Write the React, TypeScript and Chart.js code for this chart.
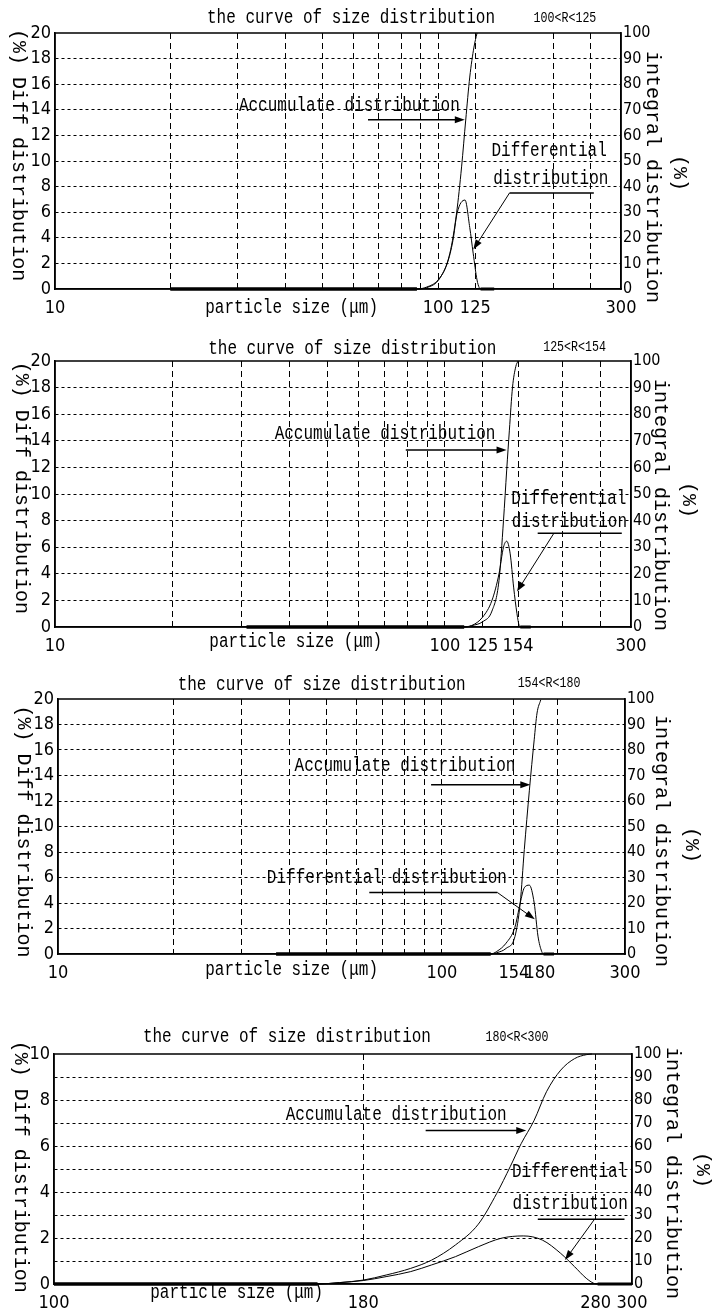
import React, { useEffect, useRef } from 'react';
import { Chart, registerables } from 'chart.js';
Chart.register(...registerables);

// ---------------- data ----------------
// Panel 1 : 100<R<125
const p1DiffSize = [20, 88, 93.3, 99.9, 105.6, 109.3, 112, 117.5, 120.9, 123.4, 126.3, 128, 129, 140];
const p1DiffValue = [0, 0, 0.15, 0.7, 2.0, 3.8, 5.9, 6.95, 4.8, 2.8, 0.7, 0.1, 0, 0];
const p1AccSize = [20, 88, 93.3, 101.1, 107.3, 111.7, 115.1, 118, 120.9, 124, 126.3];
const p1AccValue = [0, 0, 0.5, 4.3, 14, 29.7, 47.7, 66, 82.8, 94.5, 100];
const p1XGrid = [20, 30, 40, 50, 60, 70, 80, 90, 100, 125, 200, 250];
const p1XLabels = [10, 100, 125, 300];

// Panel 2 : 125<R<154
const p2DiffSize = [31, 112, 117, 125, 132, 137.6, 141.3, 144, 147, 150, 153, 155, 156, 166];
const p2DiffValue = [0, 0, 0.1, 0.75, 2.0, 4.0, 6.0, 6.45, 5.5, 3.0, 1.0, 0.1, 0, 0];
const p2AccSize = [31, 112, 117, 125, 132, 137.6, 141.3, 144, 146.3, 149, 152, 154];
const p2AccValue = [0, 0, 0.5, 2, 6, 17.5, 40, 59, 74, 90, 98, 100];
const p2XGrid = [20, 30, 40, 50, 60, 70, 80, 90, 100, 125, 154, 200, 250];
const p2XLabels = [10, 100, 125, 154, 300];

// Panel 3 : 154<R<180
const p3DiffSize = [37, 134, 139, 147, 155, 160, 164, 169, 174, 178, 182, 184, 196];
const p3DiffValue = [0, 0, 0.2, 0.85, 2.1, 4.0, 5.2, 5.4, 4.0, 1.4, 0.2, 0, 0];
const p3AccSize = [37, 134, 139, 147, 155, 160, 164, 169, 174, 177, 181];
const p3AccValue = [0, 0, 0.5, 2.2, 6.8, 20, 41, 64, 84, 94.5, 99.7];
const p3XGrid = [20, 30, 40, 50, 60, 70, 80, 90, 100, 154, 200];
const p3XLabels = [10, 100, 154, 180, 300];

// Panel 4 : 180<R<300
const p4DiffSize = [100, 165, 172, 180, 188, 197, 205, 214.5, 224, 234, 244, 253, 262, 269, 275, 279, 281, 300];
const p4DiffValue = [0, 0, 0.06, 0.15, 0.32, 0.54, 0.83, 1.19, 1.62, 1.99, 2.09, 1.91, 1.33, 0.75, 0.25, 0.03, 0, 0];
const p4AccSize = [100, 165, 172, 180, 188, 197, 205, 214.5, 224, 232, 238, 243, 249, 255, 262, 269, 275, 278];
const p4AccValue = [0, 0, 0.6, 1.7, 3.9, 6.8, 10.4, 17, 26, 39.4, 51, 61, 71, 83.6, 93, 98, 99.7, 100];
const p4XGrid = [180, 280];
const p4XLabels = [100, 180, 280, 300];

const rangeTexts = ['100<R<125', '125<R<154', '154<R<180', '180<R<300'];
const chartTitle = 'the curve of size distribution';
const xTitle = 'particle size (\u03bcm)';
const leftTitle = '(%) Diff distribution';
const rightTitle = 'integral distribution';

// ---------------- layout ----------------
const MONO = "'Liberation Mono', 'DejaVu Sans Mono', monospace";
const NARROW = "'Liberation Sans Narrow', 'DejaVu Sans Condensed', 'Liberation Sans', sans-serif";

type Ann = {
  tx: number; ty: number; ax1: number; ax2: number; ay: number;
  lines: [string, number, number][];
  hx1: number; hx2: number; hy: number; dx1: number; dy1: number; dx2: number; dy2: number;
};
type PanelCfg = {
  top: number; height: number; area: { l: number; t: number; r: number; b: number };
  xMin: number; xMax: number; xGrid: number[]; xLabels: number[];
  yMax: number; yStep: number; yLabelStep: number;
  diff: { x: number[]; y: number[] }; acc: { x: number[]; y: number[] };
  range: string;
  titleFx: number; titleDy: number; rangeFx: number; rangeDy: number;
  xTitleFx: number; xTitleDy: number;
  leftTitleX: number; leftTitleFy: number; rightTitleX: number; rightTitleFy: number; pctX: number; pctFy: number;
  ann: Ann;
};

const panels: PanelCfg[] = [
  {
    top: 0, height: 322, area: { l: 55, t: 33, r: 621, b: 289 },
    xMin: 10, xMax: 300, xGrid: p1XGrid, xLabels: p1XLabels, yMax: 20, yStep: 2, yLabelStep: 2,
    diff: { x: p1DiffSize, y: p1DiffValue }, acc: { x: p1AccSize, y: p1AccValue }, range: rangeTexts[0],
    titleFx: 0.523, titleDy: -15, rangeFx: 0.901, rangeDy: -15, xTitleFx: 0.418, xTitleDy: 19,
    leftTitleX: 18, leftTitleFy: 0.477, rightTitleX: 652, rightTitleFy: 0.5625, pctX: 679, pctFy: 0.547,
    ann: { tx: 0.52, ty: 0.284, ax1: 0.553, ax2: 0.724, ay: 0.339,
      lines: [['Differential', 0.873, 0.458], ['distribution', 0.876, 0.569]],
      hx1: 0.803, hx2: 0.952, hy: 0.625, dx1: 0.803, dy1: 0.625, dx2: 0.739, dy2: 0.846 },
  },
  {
    top: 322, height: 333, area: { l: 55, t: 361, r: 631, b: 627 },
    xMin: 10, xMax: 300, xGrid: p2XGrid, xLabels: p2XLabels, yMax: 20, yStep: 2, yLabelStep: 2,
    diff: { x: p2DiffSize, y: p2DiffValue }, acc: { x: p2AccSize, y: p2AccValue }, range: rangeTexts[1],
    titleFx: 0.516, titleDy: -12, rangeFx: 0.902, rangeDy: -14, xTitleFx: 0.418, xTitleDy: 15,
    leftTitleX: 21, leftTitleFy: 0.477, rightTitleX: 660, rightTitleFy: 0.541, pctX: 688, pctFy: 0.523,
    ann: { tx: 0.573, ty: 0.272, ax1: 0.609, ax2: 0.784, ay: 0.335,
      lines: [['Differential', 0.892, 0.516], ['distribution', 0.893, 0.604]],
      hx1: 0.838, hx2: 0.984, hy: 0.648, dx1: 0.866, dy1: 0.648, dx2: 0.802, dy2: 0.867 },
  },
  {
    top: 655, height: 330, area: { l: 58, t: 699, r: 625, b: 954 },
    xMin: 10, xMax: 300, xGrid: p3XGrid, xLabels: p3XLabels, yMax: 20, yStep: 2, yLabelStep: 2,
    diff: { x: p3DiffSize, y: p3DiffValue }, acc: { x: p3AccSize, y: p3AccValue }, range: rangeTexts[2],
    titleFx: 0.465, titleDy: -14, rangeFx: 0.866, rangeDy: -16, xTitleFx: 0.412, xTitleDy: 16,
    leftTitleX: 23, leftTitleFy: 0.52, rightTitleX: 661, rightTitleFy: 0.557, pctX: 691, pctFy: 0.573,
    ann: { tx: 0.612, ty: 0.262, ax1: 0.658, ax2: 0.833, ay: 0.336,
      lines: [['Differential distribution', 0.58, 0.7]],
      hx1: 0.549, hx2: 0.775, hy: 0.759, dx1: 0.775, dy1: 0.759, dx2: 0.841, dy2: 0.864 },
  },
  {
    top: 985, height: 326, area: { l: 54, t: 1054, r: 632, b: 1284 },
    xMin: 100, xMax: 300, xGrid: p4XGrid, xLabels: p4XLabels, yMax: 10, yStep: 1, yLabelStep: 2,
    diff: { x: p4DiffSize, y: p4DiffValue }, acc: { x: p4AccSize, y: p4AccValue }, range: rangeTexts[3],
    titleFx: 0.403, titleDy: -17, rangeFx: 0.801, rangeDy: -17, xTitleFx: 0.316, xTitleDy: 9,
    leftTitleX: 20, leftTitleFy: 0.49, rightTitleX: 672, rightTitleFy: 0.517, pctX: 702, pctFy: 0.504,
    ann: { tx: 0.592, ty: 0.265, ax1: 0.643, ax2: 0.817, ay: 0.333,
      lines: [['Differential', 0.892, 0.512], ['distribution', 0.893, 0.652]],
      hx1: 0.837, hx2: 0.987, hy: 0.719, dx1: 0.935, dy1: 0.719, dx2: 0.884, dy2: 0.896 },
  },
];

function txt(ctx: CanvasRenderingContext2D, s: string, x: number, y: number, size: number, sx: number, family = MONO, rot = 0) {
  ctx.save();
  ctx.translate(x, y);
  if (rot) ctx.rotate(rot);
  ctx.scale(sx, 1);
  ctx.font = `${size}px ${family}`;
  ctx.textAlign = 'center';
  ctx.textBaseline = 'middle';
  ctx.fillStyle = '#000';
  ctx.fillText(s, 0, 0);
  ctx.restore();
}

function arrow(ctx: CanvasRenderingContext2D, x1: number, y1: number, x2: number, y2: number) {
  const ang = Math.atan2(y2 - y1, x2 - x1);
  const L = 10, W = 3.5;
  ctx.beginPath();
  ctx.moveTo(x1, y1);
  ctx.lineTo(x2 - Math.cos(ang) * L * 0.6, y2 - Math.sin(ang) * L * 0.6);
  ctx.stroke();
  ctx.beginPath();
  ctx.moveTo(x2, y2);
  ctx.lineTo(x2 - Math.cos(ang) * L - Math.sin(ang) * W, y2 - Math.sin(ang) * L + Math.cos(ang) * W);
  ctx.lineTo(x2 - Math.cos(ang) * L + Math.sin(ang) * W, y2 - Math.sin(ang) * L - Math.cos(ang) * W);
  ctx.closePath();
  ctx.fill();
}

function PanelChart({ p }: { p: PanelCfg }) {
  const ref = useRef<HTMLCanvasElement>(null);
  useEffect(() => {
    if (!ref.current) return;
    const gridSet = new Set(p.xGrid);
    const labelSet = new Set(p.xLabels);
    const tickVals = Array.from(new Set([p.xMin, ...p.xGrid, ...p.xLabels, p.xMax])).sort((a, b) => a - b);
    const areaBottomRel = p.area.b - p.top;

    const decor = {
      id: 'decor',
      afterDraw(chart: any) {
        const ctx: CanvasRenderingContext2D = chart.ctx;
        const a = chart.chartArea;
        const w = a.right - a.left, h = a.bottom - a.top;
        const X = (f: number) => a.left + f * w;
        const Y = (f: number) => a.top + f * h;
        ctx.save();
        ctx.strokeStyle = '#000';
        ctx.fillStyle = '#000';
        ctx.lineWidth = 1.5;
        ctx.strokeRect(a.left, a.top, w, h);
        // titles
        txt(ctx, chartTitle, X(p.titleFx), a.top + p.titleDy, 20, 0.8);
        txt(ctx, p.range, X(p.rangeFx), a.top + p.rangeDy, 14, 0.83);
        txt(ctx, xTitle, X(p.xTitleFx), a.bottom + p.xTitleDy, 20, 0.8);
        txt(ctx, leftTitle, p.leftTitleX, Y(p.leftTitleFy), 20, 1, MONO, Math.PI / 2);
        txt(ctx, rightTitle, p.rightTitleX, Y(p.rightTitleFy), 20, 1, MONO, Math.PI / 2);
        txt(ctx, '(%)', p.pctX, Y(p.pctFy), 20, 1, MONO, Math.PI / 2);
        // annotations
        const an = p.ann;
        txt(ctx, 'Accumulate distribution', X(an.tx), Y(an.ty), 20, 0.8);
        ctx.lineWidth = 1.5;
        arrow(ctx, X(an.ax1), Y(an.ay), X(an.ax2), Y(an.ay));
        an.lines.forEach(([s, fx, fy]) => txt(ctx, s, X(fx), Y(fy), 20, 0.8));
        ctx.lineWidth = 1.5;
        ctx.beginPath();
        ctx.moveTo(X(an.hx1), Y(an.hy));
        ctx.lineTo(X(an.hx2), Y(an.hy));
        ctx.stroke();
        ctx.lineWidth = 1;
        arrow(ctx, X(an.dx1), Y(an.dy1), X(an.dx2), Y(an.dy2));
        ctx.restore();
      },
    };

    const zeroSeg = {
      borderWidth: (c: any) => (c.p0.parsed.y === 0 && c.p1.parsed.y === 0 ? 3 : 1),
    };

    const chart = new Chart(ref.current, {
      type: 'line',
      data: {
        datasets: [
          {
            label: 'Differential distribution',
            data: p.diff.x.map((x, i) => ({ x, y: p.diff.y[i] })),
            yAxisID: 'yL',
            borderColor: '#000',
            borderWidth: 1,
            pointRadius: 0,
            cubicInterpolationMode: 'monotone',
            clip: false,
            segment: zeroSeg,
          },
          {
            label: 'Accumulate distribution',
            data: p.acc.x.map((x, i) => ({ x, y: p.acc.y[i] })),
            yAxisID: 'yR',
            borderColor: '#000',
            borderWidth: 1,
            pointRadius: 0,
            cubicInterpolationMode: 'monotone',
            clip: false,
            segment: zeroSeg,
          },
        ],
      },
      options: {
        animation: false,
        responsive: false,
        maintainAspectRatio: false,
        events: [],
        layout: { padding: { left: 0, right: 0, top: p.area.t - p.top, bottom: 0 } },
        plugins: { legend: { display: false }, tooltip: { enabled: false }, title: { display: false } },
        scales: {
          x: {
            type: 'logarithmic',
            position: 'bottom',
            min: p.xMin,
            max: p.xMax,
            afterBuildTicks: (s: any) => {
              s.ticks = tickVals.map((v) => ({ value: v }));
            },
            afterFit: (s: any) => {
              s.height = p.height - areaBottomRel;
            },
            ticks: {
              autoSkip: false,
              maxRotation: 0,
              padding: 9,
              color: '#000',
              font: { family: NARROW, size: 18 },
              callback: (v: any) => (labelSet.has(Number(v)) ? String(v) : ''),
            },
            grid: {
              drawTicks: false,
              lineWidth: 1,
              color: (c: any) => (c.tick && gridSet.has(c.tick.value) ? '#000' : 'rgba(0,0,0,0)'),
            },
            border: { display: true, color: '#000', width: 1.5, dash: [6, 4] },
          },
          yL: {
            type: 'linear',
            position: 'left',
            min: 0,
            max: p.yMax,
            afterFit: (s: any) => {
              s.width = p.area.l;
            },
            ticks: {
              stepSize: p.yStep,
              autoSkip: false,
              padding: 4,
              color: '#000',
              font: { family: NARROW, size: 18 },
              callback: (v: any) => (Number(v) % p.yLabelStep === 0 ? String(v) : ''),
            },
            grid: {
              drawTicks: false,
              lineWidth: 1,
              color: (c: any) => (c.tick && c.tick.value > 0 && c.tick.value < p.yMax ? '#000' : 'rgba(0,0,0,0)'),
            },
            border: { display: true, color: '#000', width: 1.5, dash: [3, 3] },
          },
          yR: {
            type: 'linear',
            position: 'right',
            min: 0,
            max: 100,
            afterFit: (s: any) => {
              s.width = 713 - p.area.r;
            },
            ticks: {
              stepSize: 10,
              autoSkip: false,
              padding: 2,
              color: '#000',
              font: { family: NARROW, size: 16 },
            },
            grid: { display: false, drawTicks: false },
            border: { display: true, color: '#000', width: 1.5 },
          },
        },
      },
      plugins: [decor],
    } as any);
    return () => chart.destroy();
  }, [p]);
  return (
    <canvas
      ref={ref}
      width={713}
      height={p.height}
      style={{ position: 'absolute', left: 0, top: p.top, width: 713, height: p.height }}
    />
  );
}

export default function App() {
  return (
    <div style={{ position: 'absolute', left: 0, top: 0, width: 713, height: 1311, background: '#fff' }}>
      {panels.map((p, i) => (
        <PanelChart key={i} p={p} />
      ))}
    </div>
  );
}
